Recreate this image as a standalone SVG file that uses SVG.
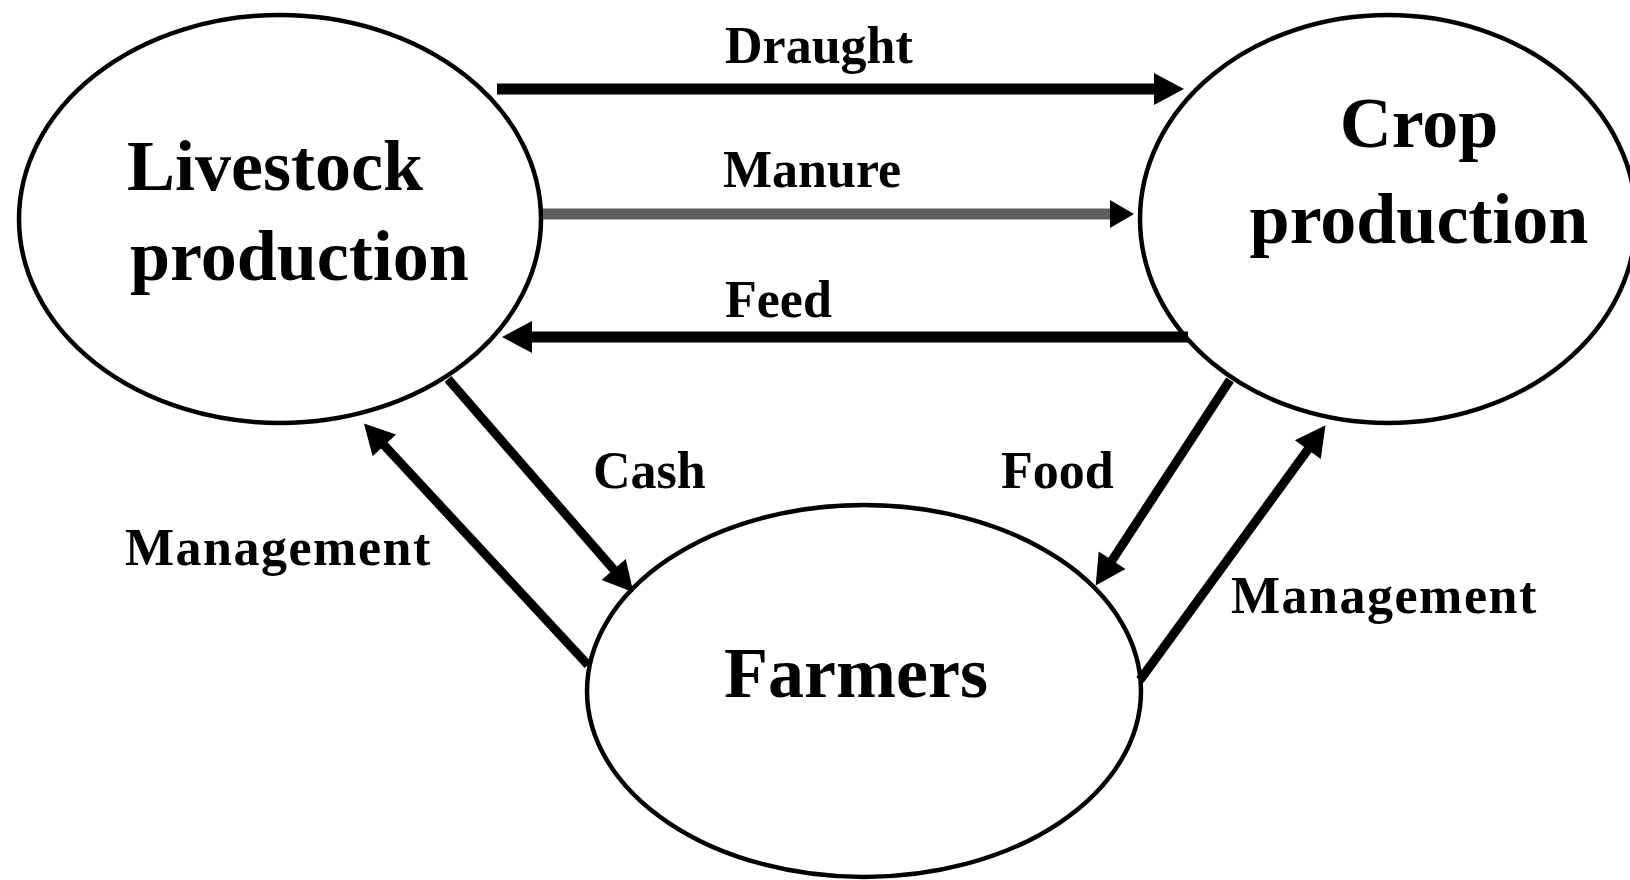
<svg xmlns="http://www.w3.org/2000/svg" width="1630" height="880" viewBox="0 0 1630 880">
<style>
.node{fill:#fff;stroke:#000;stroke-width:4.5}
.ntxt{font-family:"Liberation Serif","Times New Roman",serif;font-weight:bold;font-size:72px;fill:#000}
.lbl{font-family:"Liberation Serif","Times New Roman",serif;font-weight:bold;font-size:52px;fill:#000}
.arr{stroke:#000;stroke-width:11;fill:none;marker-end:url(#head)}
.diag{stroke:#000;stroke-width:9;fill:none;marker-end:url(#head)}
.gray{stroke:#5f5f5f;stroke-width:11;fill:none;marker-end:url(#headS)}
</style>
<defs>
<marker id="head" markerUnits="userSpaceOnUse" viewBox="0 -16 30 32" refX="2" refY="0" markerWidth="30" markerHeight="32" orient="auto" overflow="visible">
<path d="M0,-16 L30,0 L0,16 Z" fill="#000"/>
</marker>
<marker id="headS" markerUnits="userSpaceOnUse" viewBox="0 -14 24 28" refX="2" refY="0" markerWidth="24" markerHeight="28" orient="auto" overflow="visible">
<path d="M0,-14 L24,0 L0,14 Z" fill="#000"/>
</marker>
</defs>
<rect width="1630" height="880" fill="#fff"/>
<g id="livestock">
<ellipse class="node" cx="280" cy="219" rx="261" ry="204"/>
<text class="ntxt" x="127" y="190">Livestock</text>
<text class="ntxt" x="130" y="280">production</text>
</g>
<g id="crop">
<ellipse class="node" cx="1388" cy="219" rx="248" ry="204"/>
<text class="ntxt" x="1419" y="147" text-anchor="middle">Crop</text>
<text class="ntxt" x="1419" y="243" text-anchor="middle">production</text>
</g>
<g id="farmers">
<ellipse class="node" cx="864" cy="691" rx="277" ry="186"/>
<text class="ntxt" x="856" y="697" text-anchor="middle">Farmers</text>
</g>
<g id="connectors">
<line class="arr" x1="497" y1="89" x2="1156" y2="89"/>
<line class="gray" x1="543" y1="214" x2="1112" y2="214"/>
<line class="arr" x1="1188" y1="337" x2="530" y2="337"/>
<line class="diag" x1="448" y1="379" x2="615" y2="571"/>
<line class="diag" x1="588" y1="665" x2="383" y2="444"/>
<line class="diag" x1="1230" y1="380" x2="1111" y2="562"/>
<line class="diag" x1="1140" y1="680" x2="1309" y2="448"/>
<text class="lbl" x="725" y="63">Draught</text>
<text class="lbl" x="723" y="187">Manure</text>
<text class="lbl" x="725" y="317">Feed</text>
<text class="lbl" x="593" y="488">Cash</text>
<text class="lbl" x="1001" y="488">Food</text>
<text class="lbl" x="125" y="565" letter-spacing="1.5">Management</text>
<text class="lbl" x="1231" y="613" letter-spacing="1.5">Management</text>
</g>
</svg>
